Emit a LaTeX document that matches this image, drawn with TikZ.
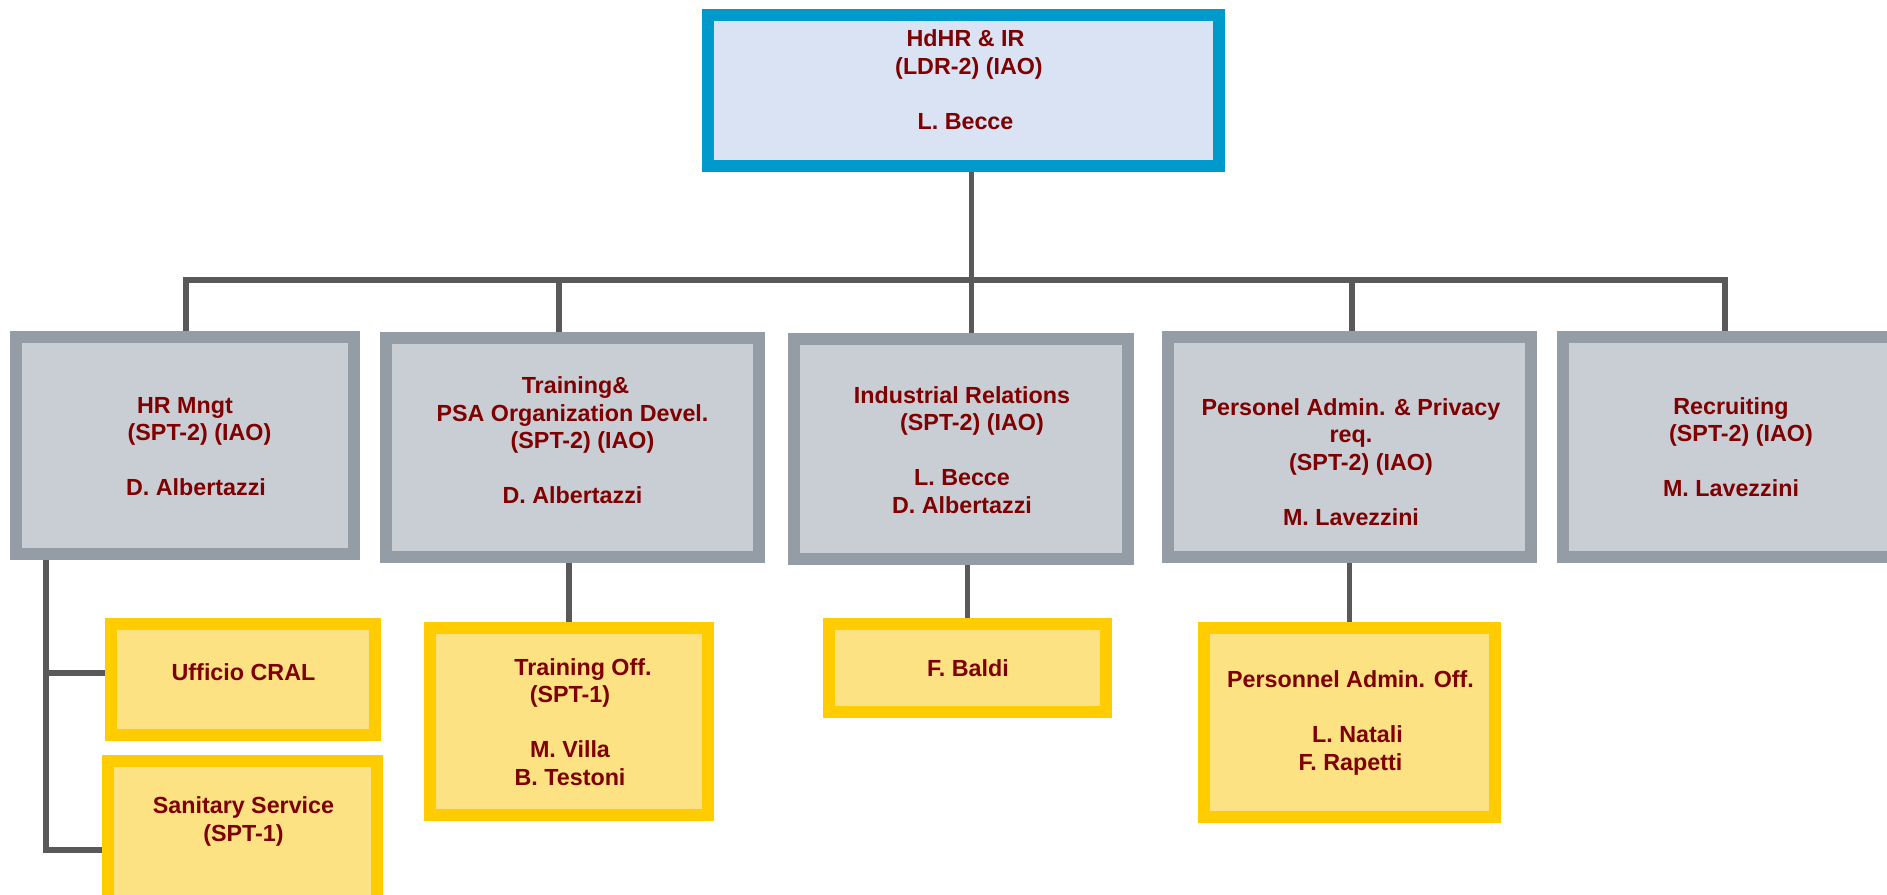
\documentclass[tikz,border=0pt]{standalone}
\usepackage{fontspec}
\setmainfont{Liberation Sans}
\definecolor{gfill}{HTML}{C9CED5}
\definecolor{gborder}{HTML}{949CA6}
\definecolor{tfill}{HTML}{DAE3F3}
\definecolor{tborder}{HTML}{0099CC}
\definecolor{yfill}{HTML}{FCE283}
\definecolor{yborder}{HTML}{FFCC00}
\definecolor{tred}{HTML}{7F0000}
\definecolor{lgrey}{HTML}{595959}
\tikzset{
  basebox/.style={draw, rectangle, line width=12pt, inner sep=0pt},
  topbox/.style={basebox, fill=tfill, draw=tborder},
  gbox/.style={basebox, fill=gfill, draw=gborder},
  ybox/.style={basebox, fill=yfill, draw=yborder},
  conn/.style={draw=lgrey, line width=5.5pt},
  txt/.style={text=tred, font=\bfseries\fontsize{23.3}{27.5}\selectfont, align=center, inner sep=0pt}
}
\begin{document}
\begin{tikzpicture}[x=1pt,y=-1pt]
\useasboundingbox (0,0) rectangle (1887,894);
\clip (0,0) rectangle (1887,894);
% boxes
\node[topbox, minimum width=511pt, minimum height=151pt] (top) at (963.5,90.5) {};
\node[gbox, minimum width=338pt, minimum height=217pt] (b1) at (185,445.5) {};
\node[gbox, minimum width=373pt, minimum height=219pt] (b2) at (572.5,447.5) {};
\node[gbox, minimum width=334pt, minimum height=220pt] (b3) at (961,449) {};
\node[gbox, minimum width=363pt, minimum height=220pt] (b4) at (1349.5,447) {};
\node[gbox, minimum width=336pt, minimum height=220pt] (b5) at (1731,447) {};
\node[ybox, minimum width=264pt, minimum height=111pt] (cral) at (243,679.5) {};
\node[ybox, minimum width=269pt, minimum height=178pt] (san) at (242.5,850) {};
\node[ybox, minimum width=278pt, minimum height=187pt] (toff) at (569,721.5) {};
\node[ybox, minimum width=277pt, minimum height=88pt] (baldi) at (967.5,668) {};
\node[ybox, minimum width=291pt, minimum height=189pt] (padm) at (1349.5,722.5) {};
% texts
\node[txt] (ttop) at (965.5,79.5) {HdHR \& IR\\\hspace*{7pt}(LDR-2) (IAO)\\[27.5pt]L. Becce};
\node[txt] (t1) at (185,446.5) {HR Mngt\\\hspace*{29pt}(SPT-2) (IAO)\\[27.5pt]\hspace*{22pt}D. Albertazzi};
\node[txt] (t2) at (572.5,440.5) {\hspace*{6pt}Training\&\\PSA Organization Devel.\\\hspace*{20pt}(SPT-2) (IAO)\\[27.5pt]D. Albertazzi};
\node[txt] (t3) at (962,450) {Industrial Relations\\\hspace*{20pt}(SPT-2) (IAO)\\[27.5pt]L. Becce\\D. Albertazzi};
\node[txt] (t4) at (1351,462) {Personel Admin. \& Privacy\\req.\\\hspace*{20pt}(SPT-2) (IAO)\\[27.5pt]M. Lavezzini};
\node[txt] (t5) at (1731,447) {Recruiting\\\hspace*{20pt}(SPT-2) (IAO)\\[27.5pt]M. Lavezzini};
\node[txt] (tcral) at (243.5,672) {Ufficio CRAL};
\node[txt] (tsan) at (243.5,821.5) {Sanitary Service\\(SPT-1)};
\node[txt] (ttoff) at (570,722) {\hspace*{26pt}Training Off.\\(SPT-1)\\[27.5pt]M. Villa\\B. Testoni};
\node[txt] (tbaldi) at (968,668) {F. Baldi};
\node[txt] (tpadm) at (1350.5,723) {Personnel Admin. Off.\\[27.5pt]\hspace*{14pt}L. Natali\\F. Rapetti};
% connectors
\coordinate (j1) at (186,280);
\coordinate (j2) at (559,280);
\coordinate (j3) at (971.5,280);
\coordinate (j4) at (1352,280);
\coordinate (j5) at (1725,280);
\draw[conn] (j1 |- b1.north) -- (j1) -- (j5) -- (j5 |- b5.north);
\draw[conn] (j2) -- (j2 |- b2.north);
\draw[conn] (j3 |- top.south) -- (j3 |- b3.north);
\draw[conn] (j4) -- (j4 |- b4.north);
\draw[conn] (toff.north) -- (toff.north |- b2.south);
\draw[conn] (baldi.north) -- (baldi.north |- b3.south);
\draw[conn] (padm.north) -- (padm.north |- b4.south);
\coordinate (lb) at (46,850);
\coordinate (lc) at (46,673);
\draw[conn] (lb |- b1.south) -- (lb) -- (san.west);
\draw[conn] (lc) -- (lc -| cral.west);
\end{tikzpicture}
\end{document}
